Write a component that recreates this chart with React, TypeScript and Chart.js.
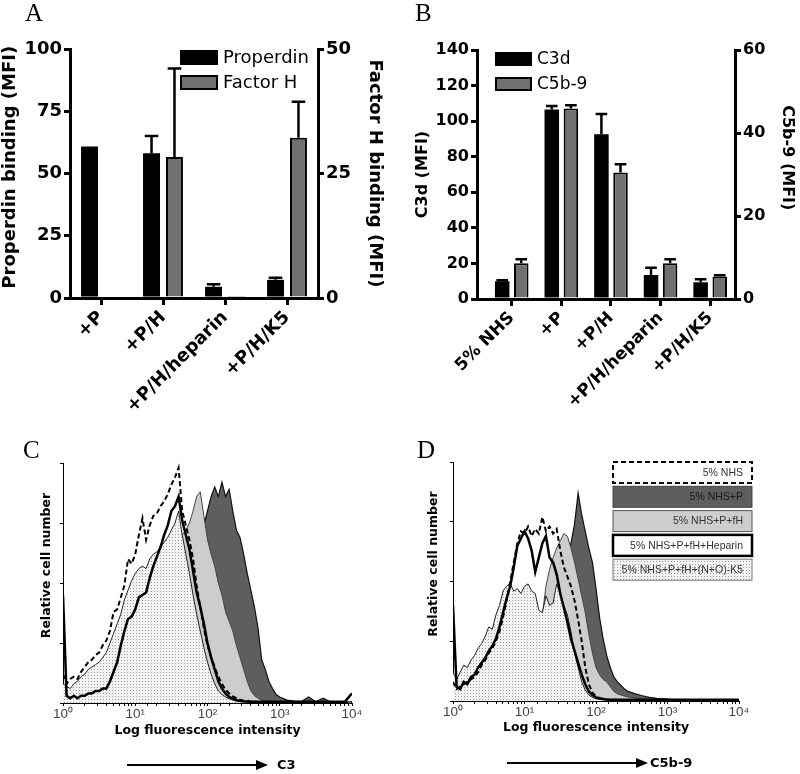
import React, { useEffect, useRef } from "react";
import { Chart, registerables } from "chart.js";
Chart.register(...registerables);

// ---------- Panel A data ----------
const catsA = ["+P", "+P/H", "+P/H/heparin", "+P/H/K5"];
const properdin = [60.8, 58.1, 4.5, 7.3];
const properdinErr = [0, 7.0, 1.0, 0.8];
const factorH = [null, 28.3, 0.4, 32.2];
const factorHErr = [0, 17.8, 0.1, 7.2];

// ---------- Panel B data ----------
const catsB = ["5% NHS", "+P", "+P/H", "+P/H/heparin", "+P/H/K5"];
const c3d = [10, 106.6, 92.6, 13.5, 9.4];
const c3dErr = [0.5, 1.9, 11.4, 4.1, 1.7];
const c5b9 = [8.6, 45.9, 30.5, 8.6, 5.4];
const c5b9Err = [1.0, 0.8, 2.0, 1.0, 0.3];

// ---------- Flow cytometry channels (log10 of fluorescence intensity) ----------
const logChannels = [
  0, 0.05, 0.1, 0.15, 0.2, 0.25, 0.3, 0.35, 0.4, 0.45,
  0.5, 0.55, 0.6, 0.65, 0.7, 0.75, 0.8, 0.85, 0.9, 0.95,
  1, 1.05, 1.1, 1.15, 1.2, 1.25, 1.3, 1.35, 1.4, 1.45,
  1.5, 1.55, 1.6, 1.65, 1.7, 1.75, 1.8, 1.85, 1.9, 1.95,
  2, 2.05, 2.1, 2.15, 2.2, 2.25, 2.3, 2.35, 2.4, 2.45,
  2.5, 2.55, 2.6, 2.65, 2.7, 2.75, 2.8, 2.85, 2.9, 2.95,
  3,
  3.1, 3.2, 3.3, 3.4, 3.5, 3.6, 3.7, 3.8, 3.9, 4,
];
const logTickLabels = ["10\u2070", "10\u00B9", "10\u00B2", "10\u00B3", "10\u2074"];
const flowLabels = [
  "5% NHS",
  "5% NHS+P",
  "5% NHS+P+fH",
  "5% NHS+P+fH+Heparin",
  "5% NHS+P+fH+(N+O)-K5",
];

// Panel C (C3) histograms, relative cell number (0-100)
const cNhs = [
  12, 8, 10, 11, 10, 13, 15, 17, 18, 20,
  21, 24, 26, 30, 38, 39, 44, 49, 60, 58,
  62, 70, 77, 68, 74, 78, 79, 82, 84, 87,
  91, 94, 98, 80, 74, 68, 60, 49, 40, 31,
  24, 19, 15, 11, 8, 5.5, 4, 2.8, 2, 1.4,
  1, 0.8, 0.6, 0.5, 0.4, 0.4, 0.3, 0.3, 0.3, 0.3,
  0.3,
  0.2, 0.2, 0.2, 0.2, 0.2, 0.2, 0.2, 0.2, 0.2, 0.2,
];
const cP = [
  2, 2, 2, 2, 3, 3, 3, 3, 4, 4,
  5, 6, 7, 8, 10, 12, 14, 16, 19, 22,
  25, 28, 31, 34, 37, 40, 43, 46, 49, 52,
  54, 56, 58, 60, 62, 64, 66, 68, 70, 74,
  80, 86, 90, 86, 92, 86, 89, 80, 72, 69,
  62, 54, 47, 40, 31, 18, 14, 9, 6, 3.5,
  2.5,
  1.2, 0.8, 0.6, 2.5, 0.5, 2, 0.5, 0.4, 0.4, 0.4,
];
const cFh = [
  4, 4, 3, 4, 4, 5, 5, 6, 7, 8,
  9, 10, 12, 14, 17, 20, 24, 28, 32, 36,
  40, 43, 46, 48, 50, 52, 54, 56, 58, 60,
  62, 65, 68, 70, 72, 75, 80, 86, 88, 78,
  68, 62, 57, 50, 45, 38, 34, 30, 24, 19,
  14, 9, 5, 3, 2, 1.2, 0.8, 0.6, 0.5, 0.5,
  0.5,
  0.4, 0.4, 0.4, 0.4, 0.4, 0.4, 0.4, 0.4, 0.4, 0.4,
];
const cHep = [
  45, 3, 2, 3, 2, 3, 3, 4, 4, 5,
  5, 6, 6, 9, 13, 17, 24, 30, 35, 36,
  39, 44, 45, 46, 52, 57, 61, 65, 70, 74,
  80, 82, 86, 76, 70, 64, 55, 46, 40, 33,
  25, 19, 14, 9, 6, 4, 2.5, 1.8, 1.2, 0.9,
  0.7, 0.6, 0.5, 0.5, 0.5, 0.5, 0.5, 0.5, 0.5, 0.5,
  0.5,
  0.5, 0.5, 0.5, 0.5, 0.5, 0.5, 0.5, 0.5, 0.5, 4,
];
const cK5 = [
  8, 7, 6, 8, 9, 11, 12, 14, 15, 16,
  17, 19, 21, 25, 29, 33, 37, 43, 47, 51,
  54, 56, 57, 56, 60, 62, 63, 65, 67, 69,
  72, 75, 80, 70, 62, 54, 45, 37, 30, 23,
  17, 12, 8, 5, 3.5, 2.5, 1.8, 1.2, 0.8, 0.6,
  0.5, 0.5, 0.5, 0.5, 0.5, 0.5, 0.5, 0.5, 0.5, 0.5,
  0.5,
  0.4, 0.4, 0.4, 0.4, 0.4, 0.4, 0.4, 0.4, 0.4, 0.4,
];

// Panel D (C5b-9) histograms
const dNhs = [
  8, 5, 6, 7, 8, 9, 10, 12, 15, 17,
  20, 22, 25, 29, 35, 42, 50, 58, 66, 71,
  70, 73, 69, 72, 70, 77, 71, 73, 70, 72,
  63, 56, 52, 48, 42, 34, 25, 14, 7, 3.5,
  2, 1.2, 0.8, 0.6, 0.5, 0.5, 0.4, 0.4, 0.4, 0.4,
  0.4, 0.4, 0.4, 0.4, 0.4, 0.4, 0.4, 0.4, 0.4, 0.4,
  0.4,
  0.3, 0.3, 0.3, 0.3, 0.3, 0.3, 0.3, 0.3, 0.3, 0.3,
];
const dP = [
  2, 2, 2, 3, 3, 3, 4, 4, 5, 5,
  6, 7, 8, 9, 10, 12, 14, 16, 18, 20,
  22, 24, 26, 28, 30, 32, 35, 38, 42, 46,
  50, 55, 60, 66, 74, 87, 78, 71, 64, 58,
  47, 35, 26, 19, 14, 10, 8, 6.5, 5, 4,
  3.5, 3, 2.6, 2.2, 1.8, 1.5, 1.3, 1.1, 1, 0.9,
  0.8,
  0.6, 0.5, 0.5, 0.4, 0.4, 0.4, 0.4, 0.4, 0.4, 0.4,
];
const dFh = [
  3, 3, 4, 4, 5, 5, 6, 7, 8, 9,
  10, 12, 14, 16, 19, 22, 25, 28, 31, 33,
  36, 38, 40, 41, 37, 36, 48, 55, 60, 64,
  67, 70, 69, 64, 58, 51, 44, 37, 28, 20,
  14, 11, 9, 8, 6, 4, 3, 2.5, 2, 1.7,
  1.4, 1.2, 1, 0.8, 0.7, 0.6, 0.6, 0.5, 0.5, 0.5,
  0.5,
  0.4, 0.4, 0.4, 0.4, 0.4, 0.4, 0.4, 0.4, 0.4, 0.4,
];
const dHep = [
  40, 6, 5, 8, 7, 10, 11, 14, 16, 18,
  21, 23, 26, 31, 37, 43, 48, 56, 65, 68,
  71, 68, 63, 54, 60, 66, 69, 60, 58, 53,
  45, 39, 33, 26, 21, 16, 11, 7, 4, 2.5,
  1.5, 1, 0.8, 0.6, 0.5, 0.5, 0.5, 0.5, 0.5, 0.5,
  0.5, 0.5, 0.5, 0.5, 0.5, 0.5, 0.5, 0.5, 0.5, 0.5,
  0.5,
  0.5, 0.5, 0.5, 0.5, 0.5, 0.5, 0.5, 0.5, 0.5, 0.5,
];
const dK5 = [
  12, 9, 12, 15, 14, 17, 19, 22, 24, 27,
  31, 30, 36, 40, 46, 48, 49, 46, 47, 45,
  48, 49, 46, 45, 38, 37, 44, 40, 41, 49,
  45, 40, 36, 29, 20, 14, 8, 4.5, 2.5, 1.5,
  1, 0.7, 0.5, 0.5, 0.5, 0.5, 0.5, 0.5, 0.5, 0.5,
  0.5, 0.5, 0.5, 0.5, 0.5, 0.5, 0.5, 0.5, 0.5, 0.5,
  0.5,
  0.4, 0.4, 0.4, 0.4, 0.4, 0.4, 0.4, 0.4, 0.4, 0.4,
];

// ---------- styling ----------
const SANS = '"DejaVu Sans", sans-serif';
const ARIAL = '"Liberation Sans", Arial, sans-serif';
const GRAY_BAR = "#707070";

// ---------- plugins ----------
const errorBars = {
  id: "errorBars",
  afterDatasetsDraw(chart: any) {
    const ctx = chart.ctx;
    chart.data.datasets.forEach((ds: any, di: number) => {
      const errs = ds.errors;
      if (!errs) return;
      const meta = chart.getDatasetMeta(di);
      const yScale = chart.scales[meta.yAxisID];
      meta.data.forEach((bar: any, i: number) => {
        const raw = ds.data[i];
        const val = raw && typeof raw === "object" ? raw.y : raw;
        const e = errs[i];
        if (val == null || !e || e < 0.2) return;
        const yTop = yScale.getPixelForValue(val + e);
        const cap = bar.width * 0.8;
        ctx.save();
        ctx.strokeStyle = "#000";
        ctx.lineWidth = 2.5;
        ctx.beginPath();
        ctx.moveTo(bar.x, bar.y);
        ctx.lineTo(bar.x, yTop);
        ctx.moveTo(bar.x - cap / 2, yTop);
        ctx.lineTo(bar.x + cap / 2, yTop);
        ctx.stroke();
        ctx.restore();
      });
    });
  },
};

function makeBoxLegend(cfg: { x: number; y: number; w: number; h: number; step: number; gap: number; font: string }) {
  return {
    id: "boxLegend",
    afterDraw(chart: any) {
      const ctx = chart.ctx;
      chart.data.datasets.forEach((ds: any, i: number) => {
        const y = cfg.y + i * cfg.step;
        ctx.save();
        ctx.fillStyle = ds.backgroundColor;
        ctx.fillRect(cfg.x, y, cfg.w, cfg.h);
        ctx.lineWidth = 2;
        ctx.strokeStyle = "#000";
        ctx.strokeRect(cfg.x + 1, y + 1, cfg.w - 2, cfg.h - 2);
        ctx.fillStyle = "#000";
        ctx.font = cfg.font;
        ctx.textAlign = "left";
        ctx.textBaseline = "middle";
        ctx.fillText(ds.label, cfg.x + cfg.w + cfg.gap, y + cfg.h / 2 + 1);
        ctx.restore();
      });
    },
  };
}

function makeFlowLegend(cfg: {
  x: number; y: number; w: number; h: number; step: number; pad: number; font: string;
  borderWidths: number[]; borderColors: string[]; textColors: string[];
}) {
  return {
    id: "flowLegend",
    afterDraw(chart: any) {
      const ctx = chart.ctx;
      chart.data.datasets.forEach((ds: any, i: number) => {
        const y = cfg.y + i * cfg.step;
        ctx.save();
        ctx.fillStyle = ds.fill ? ds.backgroundColor : "#ffffff";
        ctx.fillRect(cfg.x, y, cfg.w, cfg.h);
        ctx.lineWidth = cfg.borderWidths[i];
        ctx.strokeStyle = cfg.borderColors[i];
        ctx.setLineDash(ds.borderDash || []);
        ctx.strokeRect(cfg.x, y, cfg.w, cfg.h);
        ctx.setLineDash([]);
        ctx.font = cfg.font;
        ctx.fillStyle = cfg.textColors[i];
        ctx.textAlign = "right";
        ctx.textBaseline = "middle";
        ctx.fillText(ds.label, cfg.x + cfg.w - cfg.pad, y + cfg.h / 2 + 0.5);
        ctx.restore();
      });
    },
  };
}

function dotPattern(canvas: HTMLCanvasElement) {
  const tile = document.createElement("canvas");
  tile.width = 3;
  tile.height = 3;
  const t = tile.getContext("2d")!;
  t.fillStyle = "#f3f3f3";
  t.fillRect(0, 0, 3, 3);
  t.fillStyle = "#9c9c9c";
  t.fillRect(1, 1, 1, 1);
  return canvas.getContext("2d")!.createPattern(tile, "repeat");
}

// ---------- bar chart configs ----------
function barAxisY(opts: any) {
  return {
    position: opts.position,
    min: 0,
    max: opts.max,
    afterFit: (s: any) => { s.width = opts.width; },
    grid: { drawOnChartArea: false, tickLength: 6, lineWidth: 3, color: "#000" },
    border: { color: "#000", width: 3 },
    ticks: {
      stepSize: opts.step,
      color: "#000",
      padding: 2,
      font: { family: SANS, size: opts.tickSize, weight: "bold" },
    },
    title: {
      display: true,
      text: opts.title,
      color: "#000",
      font: { family: SANS, size: opts.titleSize, weight: "bold" },
      padding: { top: opts.titlePad, bottom: 0 },
    },
  };
}

function configA() {
  return {
    type: "bar",
    data: {
      labels: catsA,
      datasets: [
        { label: "Properdin", data: properdin, errors: properdinErr, yAxisID: "y", backgroundColor: "#000", borderColor: "#000", borderWidth: 0, categoryPercentage: 0.74, barPercentage: 0.74 },
        { label: "Factor H", data: factorH, errors: factorHErr, yAxisID: "y1", backgroundColor: GRAY_BAR, borderColor: "#000", borderWidth: 2, categoryPercentage: 0.74, barPercentage: 0.74 },
      ],
    },
    options: {
      responsive: false,
      animation: false,
      layout: { padding: { top: 49, left: 0, right: 0, bottom: 0 } },
      plugins: { legend: { display: false }, tooltip: { enabled: false } },
      scales: {
        x: {
          offset: true,
          afterFit: (s: any) => { s.height = 122; },
          grid: { offset: false, drawOnChartArea: false, tickLength: 7, lineWidth: 3, color: "#000" },
          border: { color: "#000", width: 3 },
          ticks: { color: "#000", autoSkip: false, minRotation: 45, maxRotation: 45, padding: 2, font: { family: SANS, size: 18, weight: "bold" } },
        },
        y: barAxisY({ position: "left", max: 100, step: 25, width: 70, tickSize: 18, titleSize: 18, title: "  Properdin binding (MFI)", titlePad: 0 }),
        y1: barAxisY({ position: "right", max: 50, step: 25, width: 82, tickSize: 18, titleSize: 18, title: "Factor H binding (MFI)", titlePad: 15 }),
      },
    },
    plugins: [errorBars, makeBoxLegend({ x: 180, y: 50, w: 38, h: 15, step: 25, gap: 5, font: `18px ${SANS}` })],
  };
}

function configB() {
  return {
    type: "bar",
    data: {
      datasets: [
        { label: "C3d", data: c3d.map((y, i) => ({ x: i, y })), errors: c3dErr, yAxisID: "y", backgroundColor: "#000", borderColor: "#000", borderWidth: 0, categoryPercentage: 0.77, barPercentage: 0.76 },
        { label: "C5b-9", data: c5b9.map((y, i) => ({ x: i, y })), errors: c5b9Err, yAxisID: "y1", backgroundColor: GRAY_BAR, borderColor: "#000", borderWidth: 2, categoryPercentage: 0.77, barPercentage: 0.76 },
      ],
    },
    options: {
      responsive: false,
      animation: false,
      layout: { padding: { top: 50, left: 0, right: 0, bottom: 0 } },
      plugins: { legend: { display: false }, tooltip: { enabled: false } },
      scales: {
        x: {
          type: "linear",
          offset: false,
          min: -0.7,
          max: 4.5,
          afterFit: (s: any) => { s.height = 121; },
          afterBuildTicks: (s: any) => { s.ticks = catsB.map((_, i) => ({ value: i })); },
          grid: { offset: false, drawOnChartArea: false, tickLength: 7, lineWidth: 3, color: "#000" },
          border: { color: "#000", width: 3 },
          ticks: {
            color: "#000", autoSkip: false, minRotation: 45, maxRotation: 45, padding: 2,
            font: { family: SANS, size: 17, weight: "bold" },
            callback: (v: any) => catsB[v] ?? "",
          },
        },
        y: barAxisY({ position: "left", max: 140, step: 20, width: 77, tickSize: 16, titleSize: 16, title: "C3d (MFI)", titlePad: 13 }),
        y1: barAxisY({ position: "right", max: 60, step: 20, width: 65, tickSize: 16, titleSize: 16, title: "C5b-9 (MFI)      ", titlePad: 3 }),
      },
    },
    plugins: [errorBars, makeBoxLegend({ x: 95, y: 52, w: 37, h: 14, step: 25, gap: 5, font: `17px ${SANS}` })],
  };
}

// ---------- histogram configs ----------
function flowConfig(canvas: HTMLCanvasElement, series: number[][], lay: any, withLegend: boolean) {
  const pattern = dotPattern(canvas);
  const pts = (arr: number[]) => arr.map((y, i) => ({ x: Math.pow(10, logChannels[i]), y }));
  const [nhs, p, fh, hep, k5] = series;
  const common = { pointRadius: 0, tension: 0 };
  const plugins: any[] = [];
  if (withLegend) {
    plugins.push(
      makeFlowLegend({
        x: 213, y: 82, w: 139, h: 21, step: 24.3, pad: 9, font: `10.5px ${ARIAL}`,
        borderWidths: [2, 1, 1, 2.5, 1],
        borderColors: ["#000", "#444", "#555", "#000", "#777"],
        textColors: ["#333", "#1a1a1a", "#333", "#333", "#333"],
      })
    );
  }
  return {
    type: "line",
    data: {
      datasets: [
        { ...common, label: flowLabels[0], data: pts(nhs), borderColor: "#000", borderWidth: 2, borderDash: [5, 3], fill: false, order: 1 },
        { ...common, label: flowLabels[1], data: pts(p), borderColor: "#111", borderWidth: 1.2, backgroundColor: "#5e5e5e", fill: "origin", order: 5 },
        { ...common, label: flowLabels[2], data: pts(fh), borderColor: "#444", borderWidth: 1, backgroundColor: "#cdcdcd", fill: "origin", order: 4 },
        { ...common, label: flowLabels[3], data: pts(hep), borderColor: "#000", borderWidth: 2.5, fill: false, order: 2 },
        { ...common, label: flowLabels[4], data: pts(k5), borderColor: "#222", borderWidth: 1, backgroundColor: pattern, fill: "origin", order: 3 },
      ],
    },
    options: {
      responsive: false,
      animation: false,
      layout: { padding: { top: lay.top, left: 0, right: lay.right, bottom: lay.bottom } },
      plugins: { legend: { display: false }, tooltip: { enabled: false } },
      scales: {
        x: {
          type: "logarithmic",
          min: 1,
          max: 10000,
          afterFit: (s: any) => { s.height = 37; },
          grid: { drawOnChartArea: false, tickLength: 3, lineWidth: 1, color: "#000" },
          border: { color: "#000", width: 1 },
          ticks: {
            autoSkip: false, maxRotation: 0, minRotation: 0, padding: 0, color: "#444",
            font: { family: ARIAL, size: 13.5 },
            callback: (v: any) => {
              const l = Math.log10(Number(v));
              const r = Math.round(l);
              return Math.abs(l - r) < 1e-6 ? logTickLabels[r] : "";
            },
          },
          title: {
            display: true, text: "Log fluorescence intensity", color: "#000",
            font: { family: SANS, size: 12.5, weight: "bold" },
            padding: { top: 0, bottom: lay.xTitlePad },
          },
        },
        y: {
          min: 0,
          max: 100,
          afterFit: (s: any) => { s.width = lay.left; },
          grid: { drawOnChartArea: false, tickLength: 3, lineWidth: 1, color: "#000" },
          border: { color: "#000", width: 1 },
          ticks: { stepSize: 25, padding: 0, callback: () => "" },
          title: {
            display: true, text: "        Relative cell number", color: "#000",
            font: { family: SANS, size: 12.5, weight: "bold" },
            padding: { top: lay.yTitlePad, bottom: 0 },
          },
        },
      },
    },
    plugins,
  };
}

function configC(canvas: HTMLCanvasElement) {
  return flowConfig(canvas, [cNhs, cP, cFh, cHep, cK5], { top: 83, right: 48, bottom: 34, left: 63, xTitlePad: 1.5, yTitlePad: 39 }, false);
}
function configD(canvas: HTMLCanvasElement) {
  return flowConfig(canvas, [dNhs, dP, dFh, dHep, dK5], { top: 82, right: 61, bottom: 36, left: 53, xTitlePad: 3, yTitlePad: 26.5 }, true);
}

// ---------- components ----------
function ChartBox(props: { make: (c: HTMLCanvasElement) => any; left: number; top: number; width: number; height: number }) {
  const ref = useRef<HTMLCanvasElement>(null);
  useEffect(() => {
    const canvas = ref.current!;
    const chart = new Chart(canvas, props.make(canvas));
    return () => chart.destroy();
  }, []);
  return (
    <canvas
      ref={ref}
      width={props.width}
      height={props.height}
      style={{ position: "absolute", left: props.left, top: props.top, width: props.width, height: props.height }}
    />
  );
}

const letterStyle: React.CSSProperties = {
  position: "absolute",
  fontFamily: '"Liberation Serif", "Times New Roman", serif',
  fontSize: 25,
  lineHeight: "25px",
  color: "#000",
};
const arrowTextStyle: React.CSSProperties = {
  position: "absolute",
  fontFamily: SANS,
  fontWeight: "bold",
  fontSize: 13,
  lineHeight: "16px",
  color: "#000",
};

export default function App() {
  return (
    <div style={{ position: "fixed", left: 0, top: 0, width: 800, height: 774, background: "#fff", overflow: "hidden" }}>
      <ChartBox make={configA} left={0} top={0} width={400} height={420} />
      <ChartBox make={configB} left={400} top={0} width={400} height={420} />
      <ChartBox make={configC} left={0} top={380} width={400} height={394} />
      <ChartBox make={configD} left={400} top={380} width={400} height={394} />
      <div style={{ ...letterStyle, left: 25, top: 0 }}>A</div>
      <div style={{ ...letterStyle, left: 415, top: 0 }}>B</div>
      <div style={{ ...letterStyle, left: 23, top: 437 }}>C</div>
      <div style={{ ...letterStyle, left: 417, top: 437 }}>D</div>
      <svg width={800} height={774} style={{ position: "absolute", left: 0, top: 0, pointerEvents: "none" }}>
        <line x1={127} y1={765} x2={259} y2={765} stroke="#000" strokeWidth={2} />
        <polygon points="268,765 256,760 256,770" fill="#000" />
        <line x1={507} y1={763} x2={639} y2={763} stroke="#000" strokeWidth={2} />
        <polygon points="648,763 636,758 636,768" fill="#000" />
      </svg>
      <div style={{ ...arrowTextStyle, left: 277, top: 757 }}>C3</div>
      <div style={{ ...arrowTextStyle, left: 650, top: 755 }}>C5b-9</div>
    </div>
  );
}
